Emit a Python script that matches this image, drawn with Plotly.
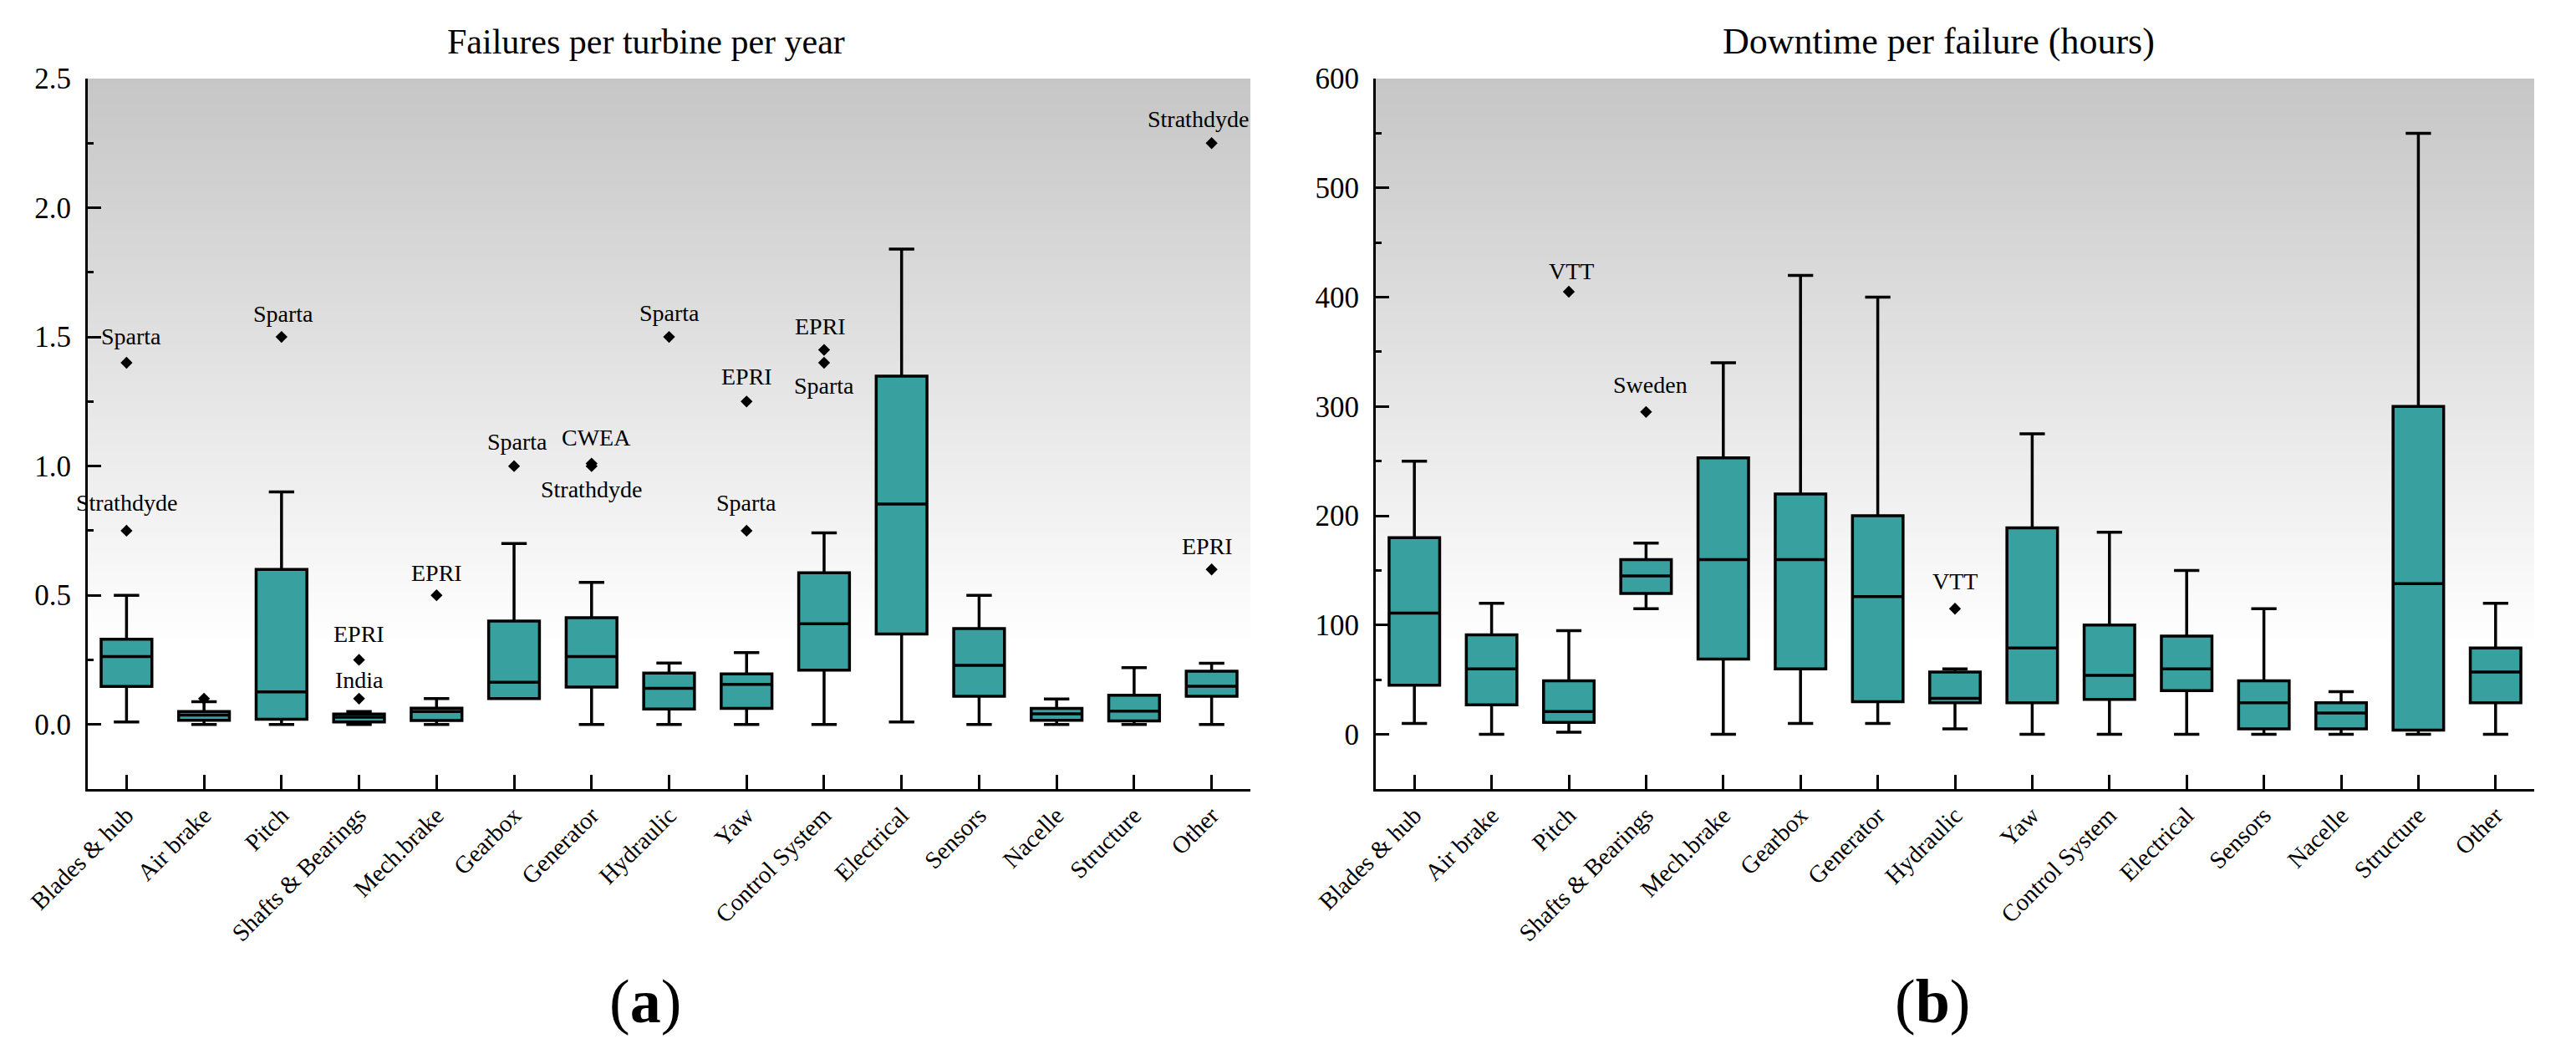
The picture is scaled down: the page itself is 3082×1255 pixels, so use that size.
import plotly.graph_objects as go

# ---------------- data ----------------
categories = ["Blades & hub", "Air brake", "Pitch", "Shafts & Bearings", "Mech.brake",
              "Gearbox", "Generator", "Hydraulic", "Yaw", "Control System",
              "Electrical", "Sensors", "Nacelle", "Structure", "Other"]

# (a) Failures per turbine per year
fail_low = [0.01, 0.0, 0.0, 0.0, 0.0, 0.10, 0.0, 0.0, 0.0, 0.0, 0.01, 0.0, 0.0, 0.0, 0.0]
fail_q1 = [0.147, 0.016, 0.02, 0.01, 0.015, 0.10, 0.145, 0.06, 0.062, 0.21, 0.35, 0.109, 0.016, 0.014, 0.109]
fail_med = [0.263, 0.036, 0.126, 0.028, 0.05, 0.163, 0.263, 0.14, 0.155, 0.39, 0.853, 0.229, 0.041, 0.052, 0.148]
fail_q3 = [0.33, 0.05, 0.60, 0.04, 0.063, 0.40, 0.413, 0.199, 0.196, 0.587, 1.348, 0.371, 0.062, 0.113, 0.206]
fail_high = [0.50, 0.088, 0.90, 0.05, 0.10, 0.70, 0.55, 0.238, 0.278, 0.742, 1.84, 0.50, 0.099, 0.22, 0.237]

fail_out_cat = ["Blades & hub", "Blades & hub", "Air brake", "Pitch", "Shafts & Bearings",
                "Shafts & Bearings", "Mech.brake", "Gearbox", "Generator", "Generator",
                "Hydraulic", "Yaw", "Yaw", "Control System", "Control System", "Other", "Other"]
fail_out_val = [1.40, 0.75, 0.10, 1.50, 0.25, 0.10, 0.50, 1.00, 1.01, 1.00,
                1.50, 1.25, 0.75, 1.45, 1.40, 2.25, 0.60]
fail_out_lab = ["Sparta", "Strathdyde", "", "Sparta", "EPRI", "India", "EPRI", "Sparta", "CWEA",
                "Strathdyde", "Sparta", "EPRI", "Sparta", "EPRI", "Sparta", "Strathdyde", "EPRI"]

# (b) Downtime per failure (hours)
down_low = [10, 0, 2, 115, 0, 10, 10, 5, 0, 0, 0, 0, 0, 0, 0]
down_q1 = [45, 27, 11, 129, 69, 60, 30, 29, 29, 32, 40, 5, 5, 4, 29]
down_med = [111, 60, 21, 145, 160, 160, 126, 33, 79, 54, 60, 29, 19.5, 138, 57]
down_q3 = [180, 91, 49, 160, 253, 220, 200, 57, 189, 100, 90, 49, 29, 300, 79]
down_high = [250, 120, 95, 175, 340, 420, 400, 60, 275, 185, 150, 115, 39, 550, 120]

down_out_cat = ["Pitch", "Shafts & Bearings", "Hydraulic"]
down_out_val = [405, 295, 115]
down_out_lab = ["VTT", "Sweden", "VTT"]

# ---------------- style / placement ----------------
fail_lab_shift = [(6, 32), (0, 33), (0, 0), (2, 28), (0, 31), (0, 22), (0, 27), (4, 29), (6, 31),
                  (0, -28), (0, 29), (0, 30), (0, 33), (-4, 28), (0, -27), (-16, 29), (-5, 28)]
down_lab_shift = [(3, 25), (5, 32), (0, 33)]

TEAL = "#38A09E"
FONT = "Liberation Serif"
DOM_A = [105 / 3082, 1496 / 3082]
DOM_B = [1646 / 3082, 3032 / 3082]
DOM_Y = [(1255 - 944) / 1255, (1255 - 94) / 1255]

fig = go.Figure()


def add_panel(xa, ya, low, q1, med, q3, high, ocat, oval):
    fig.add_trace(go.Box(
        x=categories, q1=q1, median=med, q3=q3, lowerfence=low, upperfence=high,
        xaxis=xa, yaxis=ya, fillcolor=TEAL, line=dict(color="black", width=3.5),
        width=0.655, whiskerwidth=0.5, boxpoints=False, showlegend=False, hoverinfo="skip"))
    fig.add_trace(go.Scatter(
        x=ocat, y=oval, xaxis=xa, yaxis=ya, mode="markers",
        marker=dict(symbol="diamond", size=11, color="black"), showlegend=False, hoverinfo="skip"))


add_panel("x", "y", fail_low, fail_q1, fail_med, fail_q3, fail_high, fail_out_cat, fail_out_val)
add_panel("x2", "y2", down_low, down_q1, down_med, down_q3, down_high, down_out_cat, down_out_val)

annotations = []
for c, v, t, (dx, dy) in zip(fail_out_cat, fail_out_val, fail_out_lab, fail_lab_shift):
    if t:
        annotations.append(dict(x=c, y=v, xref="x", yref="y", text=t, showarrow=False,
                                xshift=dx, yshift=dy, yanchor="middle",
                                font=dict(family=FONT, size=28, color="black")))
for c, v, t, (dx, dy) in zip(down_out_cat, down_out_val, down_out_lab, down_lab_shift):
    annotations.append(dict(x=c, y=v, xref="x2", yref="y2", text=t, showarrow=False,
                            xshift=dx, yshift=dy, yanchor="middle",
                            font=dict(family=FONT, size=28, color="black")))

annotations += [
    dict(x=773 / 3082, y=(1255 - 50) / 1255, xref="paper", yref="paper", showarrow=False,
         text="Failures per turbine per year", font=dict(family=FONT, size=42, color="black"),
         xanchor="center", yanchor="middle"),
    dict(x=2319 / 3082, y=(1255 - 50) / 1255, xref="paper", yref="paper", showarrow=False,
         text="Downtime per failure (hours)", font=dict(family=FONT, size=44, color="black"),
         xanchor="center", yanchor="middle"),
    dict(x=772 / 3082, y=(1255 - 1198) / 1255, xref="paper", yref="paper", showarrow=False,
         text="(<b>a</b>)", font=dict(family=FONT, size=74, color="black"),
         xanchor="center", yanchor="middle"),
    dict(x=2312 / 3082, y=(1255 - 1198) / 1255, xref="paper", yref="paper", showarrow=False,
         text="(<b>b</b>)", font=dict(family=FONT, size=74, color="black"),
         xanchor="center", yanchor="middle"),
]

# gradient background bands (gray at top fading to white)
shapes = []
N = 90
y_white = 0.2
top_c = 198
for xr, yr in (("x domain", "y domain"), ("x2 domain", "y2 domain")):
    for i in range(N):
        y1 = 1 - i * (1 - y_white) / N
        y0 = 1 - (i + 1) * (1 - y_white) / N
        f = (i + 0.5) / N
        c = int(round(top_c + (255 - top_c) * f))
        shapes.append(dict(type="rect", xref=xr, yref=yr, x0=0, x1=1, y0=y0 - 0.002, y1=y1,
                           fillcolor=f"rgb({c},{c},{c})", line=dict(width=0), layer="below"))


def xaxis(domain, anchor):
    return dict(domain=domain, anchor=anchor, type="category", range=[-0.5, 14.5],
                showline=True, linecolor="black", linewidth=3, ticks="inside", ticklen=17,
                tickwidth=2.5, tickcolor="black", tickangle=-45, showgrid=False, zeroline=False,
                tickfont=dict(family=FONT, size=29, color="black"), automargin=False)


def yaxis(domain, anchor, rng, dtick, minor, fmt):
    return dict(domain=domain, anchor=anchor, range=rng, dtick=dtick, tick0=0, tickformat=fmt,
                showline=True, linecolor="black", linewidth=3, ticks="inside", ticklen=16,
                tickwidth=3, tickcolor="black", showgrid=False, zeroline=False,
                minor=dict(dtick=minor, tick0=0, ticks="inside", ticklen=7, tickwidth=3,
                           tickcolor="black", showgrid=False),
                ticklabelstandoff=10,
                tickfont=dict(family=FONT, size=35, color="black"), automargin=False)


fig.update_layout(
    width=3082, height=1255, margin=dict(l=0, r=0, t=0, b=0),
    paper_bgcolor="white", plot_bgcolor="white",
    xaxis=xaxis(DOM_A, "y"), yaxis=yaxis(DOM_Y, "x", [-0.25, 2.5], 0.5, 0.25, ".1f"),
    xaxis2=xaxis(DOM_B, "y2"), yaxis2=yaxis(DOM_Y, "x2", [-50, 600], 100, 50, "d"),
    annotations=annotations, shapes=shapes, showlegend=False,
)

fig.write_html("out.html", config={"displayModeBar": False},
               post_script="document.body.style.margin='0';document.body.style.overflow='hidden';")
